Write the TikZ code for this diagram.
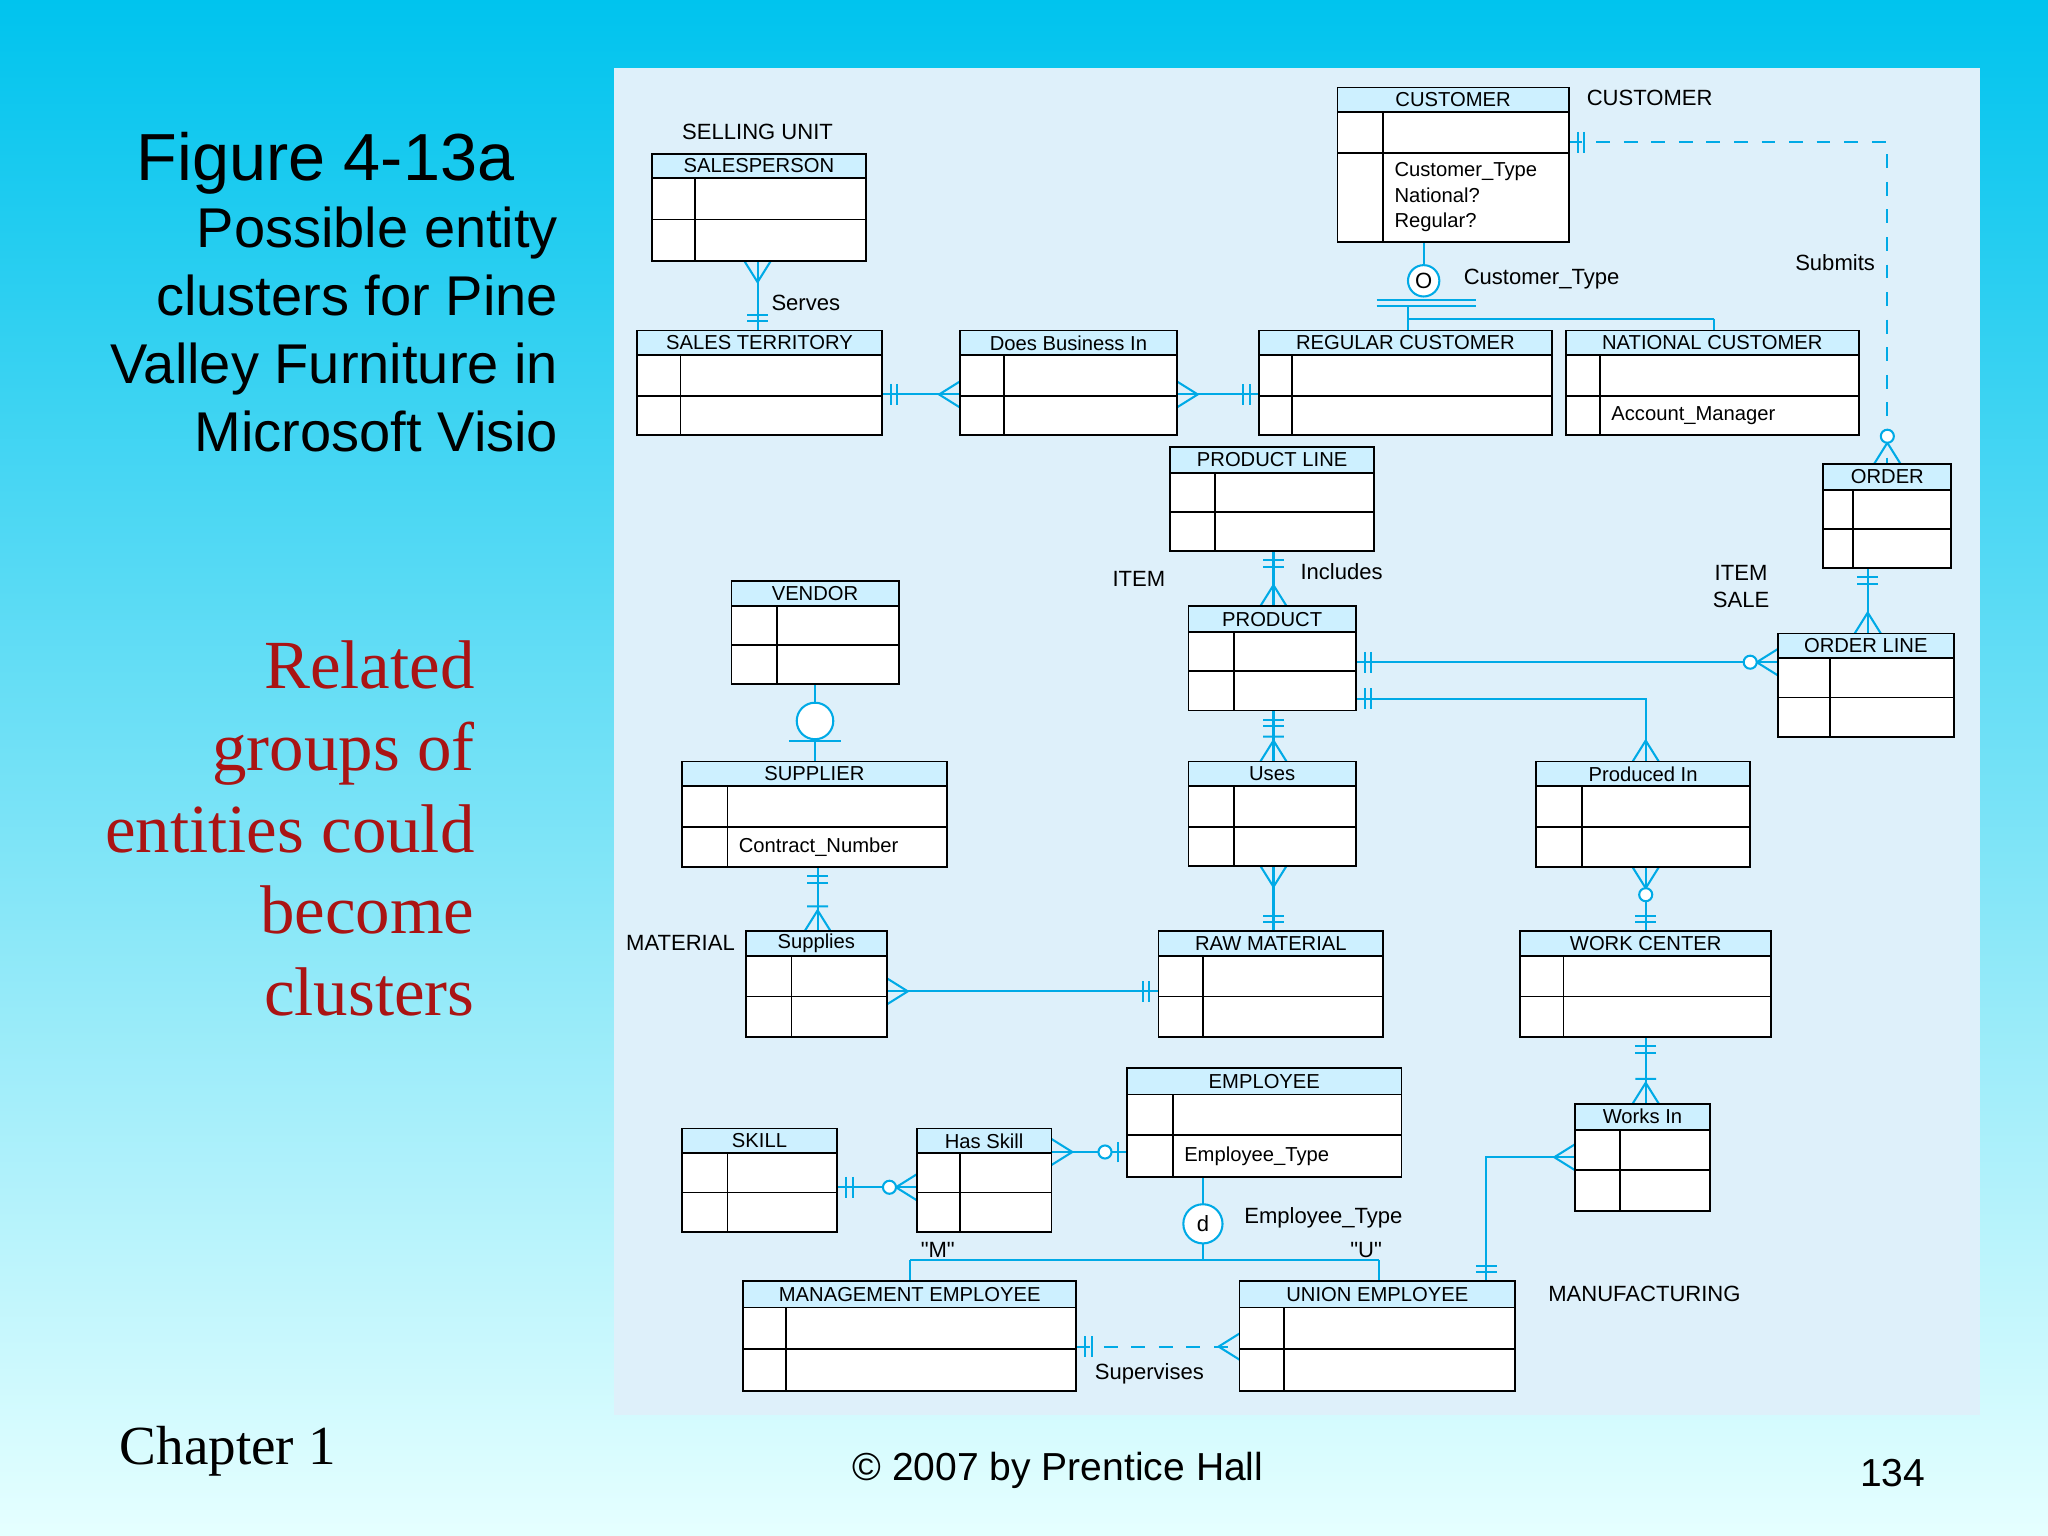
\documentclass[tikz,border=0pt]{standalone}
\usepackage{fontspec}
\setmainfont{Liberation Serif}
\setsansfont{Liberation Sans}
\newfontfamily\vis{Liberation Sans}
\definecolor{cy}{RGB}{0,170,230}
\definecolor{hd}{RGB}{205,240,255}
\definecolor{pan}{RGB}{222,240,250}
\definecolor{rd}{RGB}{170,20,20}
\tikzset{x=0.01cm,y=-0.01cm,
 cl/.style={draw=cy,line width=0.45pt},
 mo/.pic={\draw[cl] (7,-8)--(7,8) (12,-8)--(12,8);},
 mm/.pic={\draw[cl] (0,-10)--(16,0)--(0,10) (19,-8)--(19,8);},
 zo/.pic={\draw[cl] (7,-8)--(7,8); \draw[cl,fill=white] (17,0) circle (5);},
 zm/.pic={\draw[cl] (0,-10)--(16,0)--(0,10); \draw[cl,fill=white] (21,0) circle (5);},
 cr/.pic={\draw[cl] (0,-10)--(16,0)--(0,10);},
 lab/.style={font=\vis\fontsize{4.8}{6}\selectfont,inner sep=0pt},
 tit/.style={font=\vis\fontsize{4.4}{5.5}\selectfont,inner sep=0pt}}
\newcommand\ent[9]{%
 \fill[white] (#1,#2) rectangle (#3,#4);
 \fill[hd] (#1,#2) rectangle (#3,#5);
 \draw[line width=0.4pt] (#1,#2) rectangle (#3,#4) (#1,#5)--(#3,#5) (#1,#6)--(#3,#6) (#7,#5)--(#7,#4);
 \node[tit] at ({(#1+#3)/2},{(#2+#5)/2}) {#8};
 \node[tit,anchor=west,align=left] at ({#7+8},{(#6+#4)/2}) {#9};}
\begin{document}
\begin{tikzpicture}
\shade[top color=cy!70!cyan, bottom color=cyan!10] (0,0) rectangle (1568,1176);
\useasboundingbox (0,0) rectangle (1568,1176);
\fill[pan] (470,52) rectangle (1516,1083);
% left texts
\node[font=\sffamily\fontsize{14.5}{16}\selectfont,anchor=base west,inner sep=0] (fig) at (104,138) {Figure 4-13a};
\node[font=\sffamily\fontsize{12.2}{14.8}\selectfont,align=right,anchor=north east,inner sep=0] (sub) at (428,158) {Possible entity\\clusters for Pine\\Valley Furniture in\\Microsoft Visio};
\node[font=\rmfamily\fontsize{15}{17.8}\selectfont,text=rd,align=right,anchor=north east,inner sep=0] (rel) at (364,490) {Related\\groups of\\entities could\\become\\clusters};
\node[font=\rmfamily\fontsize{12}{14}\selectfont,anchor=west,inner sep=0] (ch) at (91,1111) {Chapter 1};
\node[font=\sffamily\fontsize{8.5}{10}\selectfont,inner sep=0] (cp) at (810,1126) {© 2007 by Prentice Hall};
\node[font=\sffamily\fontsize{8.5}{10}\selectfont,inner sep=0] (pg) at (1449,1128) {134};
% connectors
\draw[cl] (580,200)--(580,253); \pic[rotate=270] at (580,200) {cr}; \pic[rotate=90] at (580,253) {mo};
\node[lab,anchor=west] (serves) at (590,232) {Serves};
\draw[cl] (675,302)--(735,302); \pic at (675,302) {mo}; \pic[rotate=180] at (735,302) {cr};
\draw[cl] (901,302)--(964,302); \pic at (901,302) {cr}; \pic[rotate=180] at (964,302) {mo};
% customer subtype
\draw[cl] (1090,185)--(1090,203); \draw[cl,fill=white] (1090,215) circle (12); \node[lab] (ct) at (1090,215) {O};
\draw[cl] (1054,230)--(1130,230) (1054,234)--(1130,234) (1078,234)--(1078,244) (1078,244)--(1312,244) (1078,244)--(1078,253) (1312,244)--(1312,253);
\node[lab,anchor=west] (ctl) at (1120,214) {Customer\_Type};
\draw[cl,dashed] (1201,109)--(1445,109)--(1445,355); \pic at (1201,109) {mo}; \pic[rotate=90] at (1445,355) {zm};
\node[lab] (sub1) at (1405,201) {Submits};
\draw[cl] (1430,435)--(1430,485); \pic[rotate=270] at (1430,435) {mo}; \pic[rotate=90] at (1430,485) {cr};
\draw[cl] (975,422)--(975,464); \pic[rotate=270] at (975,422) {mo}; \pic[rotate=90] at (975,464) {cr};
\node[lab,anchor=west] (inc) at (995,438) {Includes};
\draw[cl] (1038,507)--(1361,507); \pic at (1038,507) {mo}; \pic[rotate=180] at (1361,507) {zm};
\draw[cl] (1038,535)--(1260,535)--(1260,583); \pic at (1038,535) {mo}; \pic[rotate=90] at (1260,583) {cr};
\draw[cl] (975,544)--(975,583); \pic[rotate=270] at (975,544) {mo}; \pic[rotate=90] at (975,583) {mm};
\draw[cl] (975,663)--(975,713); \pic[rotate=270] at (975,663) {cr}; \pic[rotate=90] at (975,713) {mo};
\draw[cl] (1260,664)--(1260,713); \pic[rotate=270] at (1260,664) {zm}; \pic[rotate=90] at (1260,713) {mo};
\draw[cl] (624,524)--(624,538); \draw[cl,fill=white] (624,552) circle (14); \draw[cl] (604,567)--(644,567) (624,567)--(624,583);
\draw[cl] (626,664)--(626,713); \pic[rotate=270] at (626,664) {mo}; \pic[rotate=90] at (626,713) {mm};
\draw[cl] (679,759)--(887,759); \pic at (679,759) {cr}; \pic[rotate=180] at (887,759) {mo};
\draw[cl] (1260,794)--(1260,845); \pic[rotate=270] at (1260,794) {mo}; \pic[rotate=90] at (1260,845) {mm};
\draw[cl] (1206,886)--(1138,886)--(1138,981); \pic[rotate=180] at (1206,886) {cr}; \pic[rotate=90] at (1138,981) {mo};
\draw[cl] (805,882)--(863,882); \pic at (805,882) {cr}; \pic[rotate=180] at (863,882) {zo};
\draw[cl] (641,909)--(702,909); \pic at (641,909) {mo}; \pic[rotate=180] at (702,909) {zm};
% employee subtype
\draw[cl] (921,901)--(921,922); \draw[cl,fill=white] (921,937) circle (15); \node[lab] (d) at (921,937) {d};
\draw[cl] (921,952)--(921,965) (697,965)--(1056,965) (697,965)--(697,981) (1056,965)--(1056,981);
\node[lab,anchor=west] (etl) at (952,932) {Employee\_Type};
\node[lab] (m) at (718,957) {"M"}; \node[lab] (u) at (1046,957) {"U"};
\draw[cl,dashed] (824,1031)--(949,1031); \pic at (824,1031) {mo}; \pic[rotate=180] at (949,1031) {cr};
\node[lab] (sup) at (880,1052) {Supervises};
% cluster labels
\node[lab] at (580,101) {SELLING UNIT};
\node[lab] at (1263,75) {CUSTOMER};
\node[lab] at (872,443) {ITEM};
\node[lab,align=center] at (1333,449) {ITEM\\SALE};
\node[lab] at (521,722) {MATERIAL};
\node[lab] at (1259,991) {MANUFACTURING};
% entities
\ent{499}{118}{663}{200}{136}{168}{532}{SALESPERSON}{}
\ent{488}{253}{675}{333}{272}{303}{521}{SALES TERRITORY}{}
\ent{735}{253}{901}{333}{272}{303}{769}{Does Business In}{}
\ent{964}{253}{1188}{333}{272}{303}{989}{REGULAR CUSTOMER}{}
\ent{1199}{253}{1423}{333}{272}{303}{1225}{NATIONAL CUSTOMER}{Account\_Manager}
\ent{1024}{67}{1201}{185}{86}{117}{1059}{CUSTOMER}{Customer\_Type\\National?\\Regular?}
\ent{896}{342}{1052}{422}{362}{392}{930}{PRODUCT LINE}{}
\ent{1396}{355}{1494}{435}{375}{405}{1419}{ORDER}{}
\ent{1361}{485}{1496}{564}{504}{534}{1401}{ORDER LINE}{}
\ent{910}{464}{1038}{544}{484}{514}{945}{PRODUCT}{}
\ent{560}{445}{688}{524}{464}{494}{595}{VENDOR}{}
\ent{522}{583}{725}{664}{602}{633}{557}{SUPPLIER}{Contract\_Number}
\ent{910}{583}{1038}{663}{602}{633}{945}{Uses}{}
\ent{1176}{583}{1340}{664}{602}{633}{1211}{Produced In}{}
\ent{571}{713}{679}{794}{732}{763}{606}{Supplies}{}
\ent{887}{713}{1059}{794}{732}{763}{921}{RAW MATERIAL}{}
\ent{1164}{713}{1356}{794}{732}{763}{1197}{WORK CENTER}{}
\ent{863}{818}{1073}{901}{838}{869}{898}{EMPLOYEE}{Employee\_Type}
\ent{522}{864}{641}{943}{883}{913}{557}{SKILL}{}
\ent{702}{864}{805}{943}{883}{913}{735}{Has Skill}{}
\ent{1206}{845}{1309}{927}{865}{896}{1240}{Works In}{}
\ent{569}{981}{824}{1065}{1001}{1033}{602}{MANAGEMENT EMPLOYEE}{}
\ent{949}{981}{1160}{1065}{1001}{1033}{983}{UNION EMPLOYEE}{}
\end{tikzpicture}
\end{document}
